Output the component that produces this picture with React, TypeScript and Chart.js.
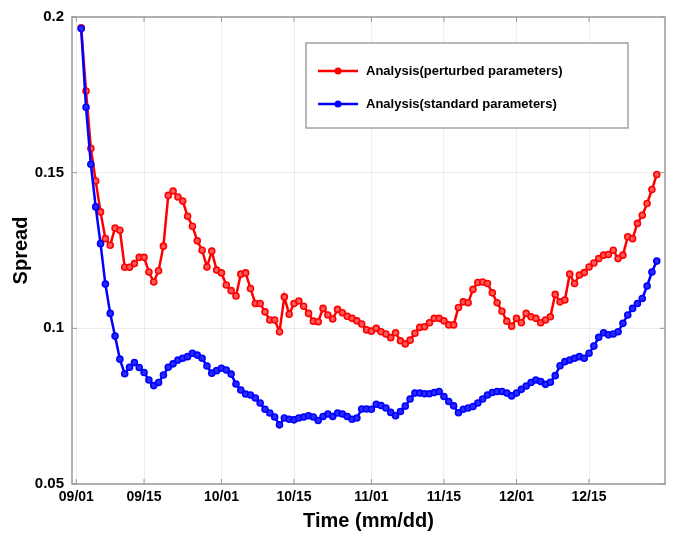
import React, { useEffect, useRef } from "react";
import { Chart, registerables } from "chart.js";

Chart.register(...registerables);

const days = [
  1, 2, 3, 4, 5, 6, 7, 8, 9, 10, 11, 12, 13, 14, 15, 16, 17, 18, 19, 20,
  21, 22, 23, 24, 25, 26, 27, 28, 29, 30, 31, 32, 33, 34, 35, 36, 37, 38, 39, 40,
  41, 42, 43, 44, 45, 46, 47, 48, 49, 50, 51, 52, 53, 54, 55, 56, 57, 58, 59, 60,
  61, 62, 63, 64, 65, 66, 67, 68, 69, 70, 71, 72, 73, 74, 75, 76, 77, 78, 79, 80,
  81, 82, 83, 84, 85, 86, 87, 88, 89, 90, 91, 92, 93, 94, 95, 96, 97, 98, 99, 100,
  101, 102, 103, 104, 105, 106, 107, 108, 109, 110, 111, 112, 113, 114, 115, 116, 117, 118, 119, 120,
];

const perturbed = [
  0.1965, 0.1762, 0.1578, 0.1473, 0.1374, 0.1288, 0.1267, 0.1322, 0.1315, 0.1196,
  0.1196, 0.1208, 0.1228, 0.1228, 0.1181, 0.1149, 0.1185, 0.1264, 0.1427, 0.1441,
  0.1422, 0.1409, 0.136, 0.1328, 0.1281, 0.1251, 0.1197, 0.1248, 0.1187, 0.1178,
  0.1139, 0.1121, 0.1104, 0.1174, 0.1178, 0.1128, 0.108, 0.108, 0.1053, 0.1027,
  0.1027, 0.0989, 0.1101, 0.1045, 0.108, 0.1088, 0.1071, 0.1048, 0.1023, 0.1021,
  0.1064, 0.1043, 0.103, 0.1061, 0.105, 0.1039, 0.1032, 0.1024, 0.1014, 0.0995,
  0.0991, 0.1, 0.0989, 0.0982, 0.097, 0.0986, 0.096, 0.095, 0.0962, 0.0984,
  0.1003, 0.1005, 0.1018, 0.1032, 0.1032, 0.1024, 0.1011, 0.1011, 0.1067, 0.1085,
  0.1082, 0.1125, 0.1147, 0.1149, 0.1144, 0.1114, 0.1082, 0.1055, 0.1023, 0.1007,
  0.1032, 0.1018, 0.1048, 0.1037, 0.1032, 0.1018, 0.1027, 0.1037, 0.1109, 0.1085,
  0.1091, 0.1174, 0.1144, 0.1171, 0.1179, 0.1197, 0.121, 0.1224, 0.1235, 0.1237,
  0.1251, 0.1224, 0.1235, 0.1294, 0.1288, 0.1337, 0.1363, 0.1401, 0.1446, 0.1494,
];

const standard = [
  0.1963, 0.171, 0.1527, 0.139, 0.1272, 0.1142, 0.1048, 0.0975, 0.0901, 0.0854,
  0.0875, 0.089, 0.0874, 0.0858, 0.0834, 0.0816, 0.0826, 0.085, 0.0875, 0.0886,
  0.0898, 0.0904, 0.0909, 0.092, 0.0914, 0.0904, 0.0879, 0.0856, 0.0864, 0.0872,
  0.0866, 0.0853, 0.0821, 0.0802, 0.0789, 0.0786, 0.0776, 0.076, 0.074, 0.0728,
  0.0715, 0.069, 0.0712, 0.0708, 0.0706, 0.0712, 0.0715, 0.0719, 0.0715, 0.0704,
  0.0717, 0.0725, 0.0717, 0.0728, 0.0725, 0.0717, 0.0708, 0.0712, 0.0741, 0.0741,
  0.074, 0.0756, 0.0752, 0.0744, 0.073, 0.0719, 0.0733, 0.075, 0.0773, 0.0792,
  0.0792, 0.079, 0.079, 0.0794, 0.0797, 0.0781, 0.0765, 0.0751, 0.0729, 0.074,
  0.0744, 0.0749, 0.076, 0.0773, 0.0786, 0.0794, 0.0797, 0.0797, 0.0792, 0.0783,
  0.0792, 0.0804, 0.0815, 0.0826, 0.0834, 0.0829, 0.082, 0.0827, 0.0848, 0.088,
  0.0893, 0.0898, 0.0904, 0.0909, 0.0904, 0.092, 0.0943, 0.0971, 0.0986, 0.0979,
  0.0982, 0.0989, 0.1016, 0.1043, 0.1064, 0.108, 0.1096, 0.1136, 0.1181, 0.1216,
];

const xTickDays = [0, 14, 30, 45, 61, 76, 91, 106];
const xTickLabels = ["09/01", "09/15", "10/01", "10/15", "11/01", "11/15", "12/01", "12/15"];
const yTickValues = [0.05, 0.1, 0.15, 0.2];
const yTickLabels = ["0.05", "0.1", "0.15", "0.2"];

const seriesNames = ["Analysis(perturbed parameters)", "Analysis(standard parameters)"];
const seriesColors = ["#ff0000", "#0000ff"];
const seriesFills = ["#ff5a5a", "#2a2aff"];

const FONT = "'Liberation Sans', Arial, Helvetica, sans-serif";

const framePlugin = {
  id: "frameAndLegend",
  afterDraw(chart: any) {
    const { ctx, chartArea } = chart;
    const { left, right, top, bottom } = chartArea;
    const xs = chart.scales.x;
    const ys = chart.scales.y;
    ctx.save();
    ctx.strokeStyle = "#999999";
    ctx.lineWidth = 1.5;
    ctx.strokeRect(left, top, right - left, bottom - top);
    ctx.lineWidth = 1;
    const tl = 5;
    ctx.beginPath();
    xTickDays.forEach((d) => {
      const px = xs.getPixelForValue(d);
      ctx.moveTo(px, bottom);
      ctx.lineTo(px, bottom - tl);
      ctx.moveTo(px, top);
      ctx.lineTo(px, top + tl);
    });
    yTickValues.forEach((v) => {
      const py = ys.getPixelForValue(v);
      ctx.moveTo(left, py);
      ctx.lineTo(left + tl, py);
      ctx.moveTo(right, py);
      ctx.lineTo(right - tl, py);
    });
    ctx.stroke();

    // legend box
    const bx = 306, by = 43, bw = 322, bh = 85;
    ctx.fillStyle = "#ffffff";
    ctx.fillRect(bx, by, bw, bh);
    ctx.strokeStyle = "#8a8a8a";
    ctx.lineWidth = 1.2;
    ctx.strokeRect(bx, by, bw, bh);
    const rows = [71, 104];
    rows.forEach((ry, i) => {
      ctx.strokeStyle = seriesColors[i];
      ctx.lineWidth = 2.5;
      ctx.beginPath();
      ctx.moveTo(318, ry);
      ctx.lineTo(358, ry);
      ctx.stroke();
      ctx.fillStyle = seriesColors[i];
      ctx.beginPath();
      ctx.arc(338, ry, 3.5, 0, Math.PI * 2);
      ctx.fill();
      ctx.fillStyle = "#000000";
      ctx.font = `bold 13px ${FONT}`;
      ctx.textBaseline = "middle";
      ctx.textAlign = "left";
      ctx.fillText(seriesNames[i], 366, ry);
    });
    ctx.restore();
  },
};

export default function App() {
  const ref = useRef<HTMLCanvasElement | null>(null);
  useEffect(() => {
    if (!ref.current) return;
    const mk = (vals: number[]) => days.map((d, i) => ({ x: d, y: vals[i] }));
    const chart = new Chart(ref.current, {
      type: "line",
      data: {
        datasets: [
          {
            label: seriesNames[0],
            data: mk(perturbed),
            order: 1,
            borderColor: seriesColors[0],
            backgroundColor: seriesFills[0],
            pointBackgroundColor: seriesFills[0],
            pointBorderColor: seriesColors[0],
            borderWidth: 2.5,
            pointRadius: 3,
            pointBorderWidth: 1.6,
            tension: 0,
          },
          {
            label: seriesNames[1],
            data: mk(standard),
            order: 0,
            borderColor: seriesColors[1],
            backgroundColor: seriesFills[1],
            pointBackgroundColor: seriesFills[1],
            pointBorderColor: seriesColors[1],
            borderWidth: 2.5,
            pointRadius: 3,
            pointBorderWidth: 1.6,
            tension: 0,
          },
        ],
      },
      options: {
        animation: false,
        responsive: false,
        maintainAspectRatio: false,
        layout: { padding: { top: 16, right: 25, left: 0, bottom: 0 } },
        plugins: { legend: { display: false }, tooltip: { enabled: false } },
        scales: {
          x: {
            type: "linear",
            min: -0.9,
            max: 121.7,
            afterBuildTicks: (s: any) => {
              s.ticks = xTickDays.map((v) => ({ value: v }));
            },
            afterFit: (s: any) => {
              s.height = 55;
            },
            ticks: {
              autoSkip: false,
              maxRotation: 0,
              color: "#000",
              font: { family: FONT, size: 14, weight: "bold" },
              padding: 5,
              callback: (v: any) => {
                const i = xTickDays.indexOf(Number(v));
                return i >= 0 ? xTickLabels[i] : "";
              },
            },
            grid: { color: "rgba(0,0,0,0.07)", drawTicks: false },
            border: { display: false },
            title: {
              display: true,
              text: "Time (mm/dd)",
              color: "#000",
              font: { family: FONT, size: 20, weight: "bold" },
              padding: { top: 0, bottom: 6 },
            },
          },
          y: {
            type: "linear",
            min: 0.05,
            max: 0.2,
            afterBuildTicks: (s: any) => {
              s.ticks = yTickValues.map((v) => ({ value: v }));
            },
            afterFit: (s: any) => {
              s.width = 72;
            },
            ticks: {
              color: "#000",
              font: { family: FONT, size: 15, weight: "bold" },
              padding: 8,
              callback: (v: any) => {
                const i = yTickValues.findIndex((t) => Math.abs(t - Number(v)) < 1e-9);
                return i >= 0 ? yTickLabels[i] : "";
              },
            },
            grid: { color: "rgba(0,0,0,0.07)", drawTicks: false },
            border: { display: false },
            title: {
              display: true,
              text: "Spread",
              color: "#000",
              font: { family: FONT, size: 20, weight: "bold" },
              padding: { top: 9, bottom: 0 },
            },
          },
        },
      },
      plugins: [framePlugin],
    });
    return () => chart.destroy();
  }, []);
  return (
    <div style={{ position: "fixed", left: 0, top: 0, width: 690, height: 539, background: "#fff" }}>
      <canvas ref={ref} width={690} height={539} style={{ width: 690, height: 539 }} />
    </div>
  );
}
